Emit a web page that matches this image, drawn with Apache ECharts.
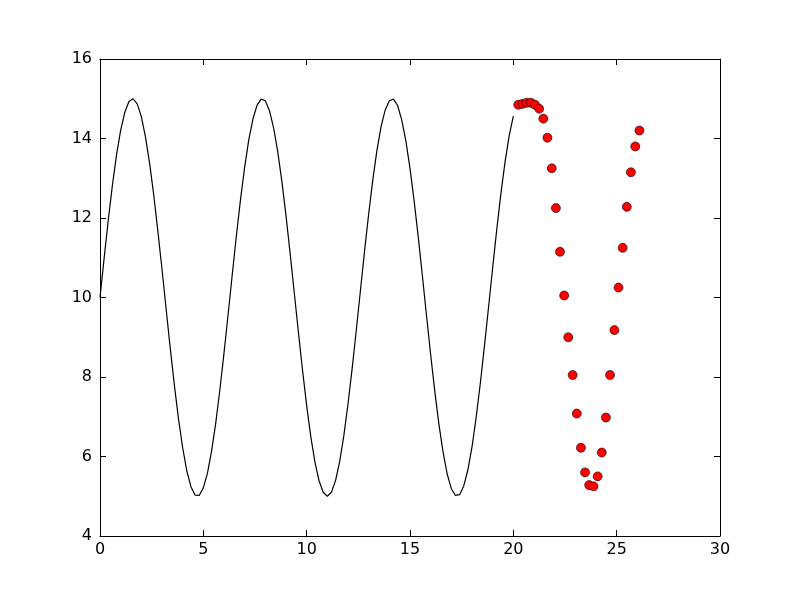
<!DOCTYPE html>
<html><head><meta charset="utf-8">
<script src="https://cdn.jsdelivr.net/npm/echarts@6/dist/echarts.min.js"></script>
<style>html,body{margin:0;padding:0;background:#fff;}#c{width:800px;height:596px;}</style>
</head><body><div id="c"></div>
<script>
var lineX = [0,0.2,0.4,0.6,0.8,1.0,1.2,1.4,1.6,1.8,2.0,2.2,2.4,2.6,2.8,3.0,3.2,3.4,3.6,3.8,4.0,4.2,4.4,4.6,4.8,5.0,5.2,5.4,5.6,5.8,6.0,6.2,6.4,6.6,6.8,7.0,7.2,7.4,7.6,7.8,8.0,8.2,8.4,8.6,8.8,9.0,9.2,9.4,9.6,9.8,10.0,10.2,10.4,10.6,10.8,11.0,11.2,11.4,11.6,11.8,12.0,12.2,12.4,12.6,12.8,13.0,13.2,13.4,13.6,13.8,14.0,14.2,14.4,14.6,14.8,15.0,15.2,15.4,15.6,15.8,16.0,16.2,16.4,16.6,16.8,17.0,17.2,17.4,17.6,17.8,18.0,18.2,18.4,18.6,18.8,19.0,19.2,19.4,19.6,19.8,20.0];
var lineY = [10.00,10.99,11.95,12.82,13.59,14.21,14.66,14.93,15.00,14.87,14.55,14.04,13.38,12.58,11.67,10.71,9.71,8.72,7.79,6.94,6.22,5.64,5.24,5.03,5.02,5.21,5.58,6.14,6.84,7.68,8.60,9.58,10.58,11.56,12.47,13.28,13.97,14.49,14.84,14.99,14.95,14.70,14.27,13.67,12.92,12.06,11.11,10.12,9.13,8.17,7.28,6.50,5.86,5.39,5.10,5.00,5.10,5.40,5.88,6.53,7.32,8.21,9.17,10.17,11.16,12.10,12.96,13.70,14.30,14.72,14.95,14.99,14.83,14.47,13.94,13.25,12.43,11.52,10.54,9.54,8.56,7.64,6.81,6.11,5.56,5.19,5.02,5.04,5.26,5.66,6.24,6.98,7.83,8.77,9.75,10.75,11.72,12.62,13.41,14.07,14.56];
var ptX = [20.24,20.44,20.64,20.85,21.05,21.25,21.45,21.65,21.86,22.06,22.26,22.46,22.66,22.87,23.07,23.27,23.47,23.67,23.88,24.08,24.28,24.48,24.68,24.89,25.09,25.29,25.49,25.69,25.90,26.10];
var ptY = [14.85,14.87,14.90,14.90,14.85,14.75,14.50,14.02,13.25,12.25,11.15,10.05,9.00,8.05,7.08,6.22,5.60,5.28,5.25,5.50,6.10,6.98,8.05,9.18,10.25,11.25,12.28,13.15,13.80,14.20];
var xTicks = [0,5,10,15,20,25,30];
var yTicks = [4,6,8,10,12,14,16];

function zip(a,b){return a.map(function(v,i){return [v,b[i]];});}
var chart = echarts.init(document.getElementById('c'), null, {renderer:'canvas'});
var lbl = {color:'#000', fontSize:16, fontFamily:'DejaVu Sans'};
var ax = {lineStyle:{color:'#000', width:1}};
chart.setOption({
  animation:false,
  backgroundColor:'#fff',
  grid:{left:100, right:80, top:59, bottom:60, containLabel:false},
  xAxis:[
    {type:'value', min:0, max:30, interval:5, position:'bottom',
     axisLine:{show:true, onZero:false, lineStyle:ax.lineStyle},
     axisTick:{show:true, inside:true, length:6, lineStyle:ax.lineStyle},
     axisLabel:Object.assign({margin:6, formatter:function(v){return xTicks.indexOf(v)>=0?String(v):'';}}, lbl),
     splitLine:{show:false}},
    {type:'value', min:0, max:30, interval:5, position:'top',
     axisLine:{show:true, onZero:false, lineStyle:ax.lineStyle},
     axisTick:{show:true, inside:true, length:6, lineStyle:ax.lineStyle},
     axisLabel:{show:false}, splitLine:{show:false}}
  ],
  yAxis:[
    {type:'value', min:4, max:16, interval:2, position:'left',
     axisLine:{show:true, onZero:false, lineStyle:ax.lineStyle},
     axisTick:{show:true, inside:true, length:6, lineStyle:ax.lineStyle},
     axisLabel:Object.assign({margin:8, formatter:function(v){return yTicks.indexOf(v)>=0?String(v):'';}}, lbl),
     splitLine:{show:false}},
    {type:'value', min:4, max:16, interval:2, position:'right',
     axisLine:{show:true, onZero:false, lineStyle:ax.lineStyle},
     axisTick:{show:true, inside:true, length:6, lineStyle:ax.lineStyle},
     axisLabel:{show:false}, splitLine:{show:false}}
  ],
  series:[
    {type:'line', data:zip(lineX,lineY), showSymbol:false, symbol:'none',
     lineStyle:{color:'#000', width:1.2}, xAxisIndex:0, yAxisIndex:0},
    {type:'scatter', data:zip(ptX,ptY), symbol:'circle', symbolSize:9,
     itemStyle:{color:'#ff0000', borderColor:'#000', borderWidth:0.6, opacity:1},
     xAxisIndex:0, yAxisIndex:0}
  ]
});
</script></body></html>
